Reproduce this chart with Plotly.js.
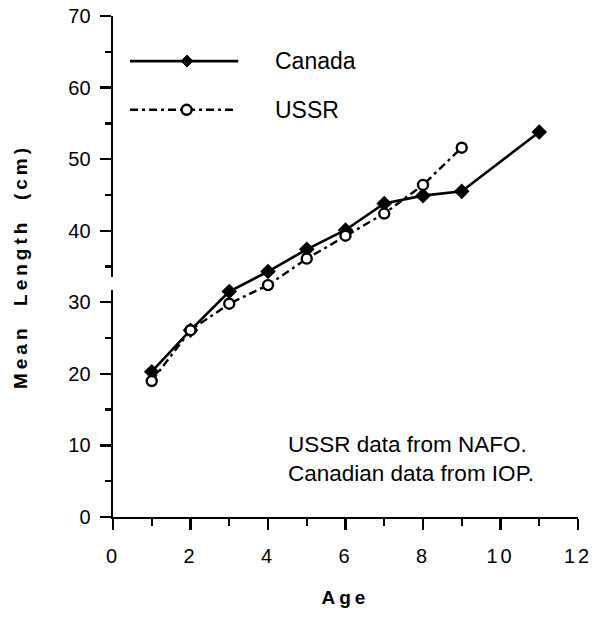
<!DOCTYPE html>
<html>
<head>
<meta charset="utf-8">
<script src="https://cdn.plot.ly/plotly-3.0.1.min.js"></script>
<style>html,body{margin:0;padding:0;background:#fff;}</style>
</head>
<body>
<div id="chart" style="width:597px;height:639px;"></div>
<script>
// Data
var ages_canada = [1, 2, 3, 4, 5, 6, 7, 8, 9, 11];
var length_canada = [20.3, 26.1, 31.5, 34.3, 37.4, 40.1, 43.8, 44.9, 45.5, 53.8];
var ages_ussr = [1, 2, 3, 4, 5, 6, 7, 8, 9];
var length_ussr = [19.0, 26.1, 29.8, 32.4, 36.1, 39.3, 42.4, 46.4, 51.6];
var series_names = ["Canada", "USSR"];
var x_ticks = [0, 2, 4, 6, 8, 10, 12];
var y_ticks = [0, 10, 20, 30, 40, 50, 60, 70];
var note_lines = ["USSR data from NAFO.", "Canadian data from IOP."];

var FONT = "'Liberation Sans', Arial, Helvetica, sans-serif";

var traces = [
  {
    x: ages_canada, y: length_canada, name: series_names[0],
    type: "scatter", mode: "lines+markers",
    line: {color: "#000", width: 2.6},
    marker: {symbol: "diamond", size: 12, color: "#000"}
  },
  {
    x: ages_ussr, y: length_ussr, name: series_names[1],
    type: "scatter", mode: "lines+markers",
    line: {color: "#000", width: 2.4, dash: "8px,4px,3px,4px"},
    marker: {symbol: "circle", size: 10, color: "#fff", line: {color: "#000", width: 2.4}}
  }
];

var layout = {
  width: 597, height: 639,
  margin: {l: 113, r: 19, t: 16, b: 122},
  paper_bgcolor: "#fff", plot_bgcolor: "#fff",
  showlegend: false,
  font: {family: FONT, color: "#000", size: 20},
  xaxis: {
    range: [0, 12], tickvals: x_ticks, ticktext: x_ticks.map(String),
    showgrid: false, zeroline: false, showline: true, linewidth: 2.4, linecolor: "#000",
    ticks: "outside", ticklen: 11, tickwidth: 2.4, tickcolor: "#000",
    ticklabelstandoff: 9,
    minor: {dtick: 1, ticks: "outside", ticklen: 7, tickwidth: 2.4, tickcolor: "#000"},
    tickfont: {size: 20, family: FONT},
    title: {text: "<b>Age</b>", font: {size: 19, family: FONT}, standoff: 24}
  },
  yaxis: {
    range: [0, 70], tickvals: y_ticks, ticktext: y_ticks.map(String),
    showgrid: false, zeroline: false, showline: true, linewidth: 2.4, linecolor: "#000",
    ticks: "outside", ticklen: 11, tickwidth: 2.4, tickcolor: "#000",
    ticklabelstandoff: 5,
    minor: {dtick: 5, ticks: "outside", ticklen: 6, tickwidth: 2.4, tickcolor: "#000"},
    tickfont: {size: 20, family: FONT},
    title: {text: "<b>Mean\u00a0 Length\u00a0 (cm)</b>", font: {size: 19, family: FONT}, standoff: 36}
  },
  shapes: [
    // axis break on the y axis
    {type: "rect", xref: "paper", yref: "paper", x0: -0.012, x1: 0.012, y0: 0.453, y1: 0.479,
     fillcolor: "#fff", line: {width: 0}, layer: "above"},
    // legend sample lines
    {type: "line", xref: "x", yref: "y", x0: 0.44, x1: 3.23, y0: 63.7, y1: 63.7,
     line: {color: "#000", width: 2.6}},
    {type: "line", xref: "x", yref: "y", x0: 0.44, x1: 3.1, y0: 56.9, y1: 56.9,
     line: {color: "#000", width: 2.4, dash: "8px,4px,3px,4px"}},
    // legend sample markers
    {type: "path", xref: "x", yref: "y", xsizemode: "pixel", ysizemode: "pixel",
     xanchor: 1.91, yanchor: 63.7, path: "M0,6L6,0L0,-6L-6,0Z",
     fillcolor: "#000", line: {color: "#000", width: 1}},
    {type: "circle", xref: "x", yref: "y", xsizemode: "pixel", ysizemode: "pixel",
     xanchor: 1.90, yanchor: 56.9, x0: -5, x1: 5, y0: -5, y1: 5,
     fillcolor: "#fff", line: {color: "#000", width: 2.4}}
  ],
  annotations: [
    {xref: "x", yref: "y", x: 4.13, y: 63.7, xanchor: "left", yanchor: "middle",
     text: series_names[0], showarrow: false, font: {size: 23, family: FONT}},
    {xref: "x", yref: "y", x: 4.13, y: 56.9, xanchor: "left", yanchor: "middle",
     text: series_names[1], showarrow: false, font: {size: 23, family: FONT}},
    {xref: "x", yref: "y", x: 4.47, y: 8.1, xanchor: "left", yanchor: "middle", align: "left",
     text: note_lines.join("<br>"), showarrow: false, font: {size: 22.5, family: FONT}}
  ]
};

Plotly.newPlot("chart", traces, layout, {displayModeBar: false, staticPlot: true}).then(function () {
  document.querySelectorAll(".ytitle, .xtitle").forEach(function (el) {
    el.style.letterSpacing = "4px";
  });
  document.querySelectorAll(".xtick text").forEach(function (el) {
    el.style.letterSpacing = "3px";
  });
});
</script>
</body>
</html>
